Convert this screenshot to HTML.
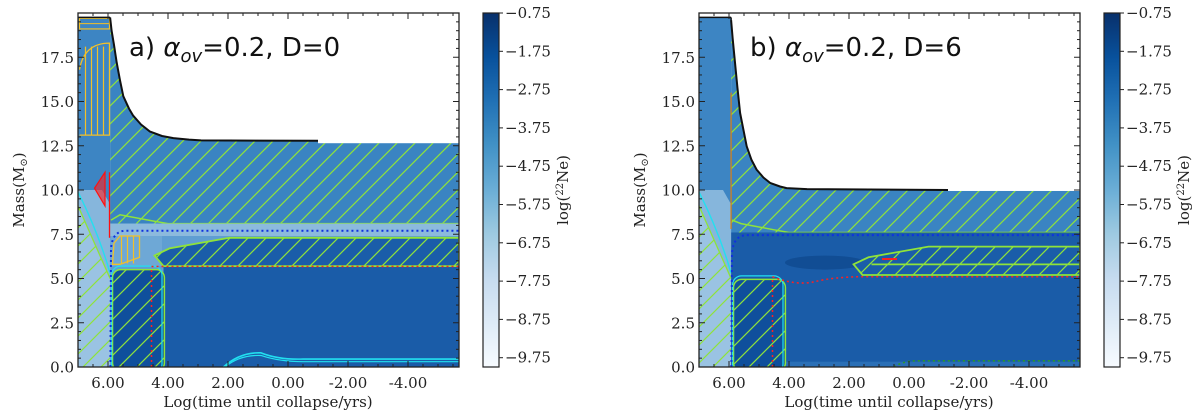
<!DOCTYPE html>
<html><head><meta charset="utf-8">
<style>
html,body{margin:0;padding:0;background:#fff;}
svg{display:block;}
text{font-family:"DejaVu Serif","Liberation Serif",serif;fill:#222;}
.t{font-size:15px;}
</style></head>
<body>
<svg id="chart" width="1200" height="415" viewBox="0 0 1200 415" xmlns="http://www.w3.org/2000/svg">
<defs>
<pattern id="hatch" patternUnits="userSpaceOnUse" width="18" height="18">
<path d="M0,18 L18,0 M-4.5,4.5 L4.5,-4.5 M13.5,22.5 L22.5,13.5" stroke="#8fe33a" stroke-width="1.2"/>
</pattern>
<linearGradient id="cmap" x1="0" y1="1" x2="0" y2="0">
<stop offset="0" stop-color="#f7fbff"/><stop offset="0.125" stop-color="#deebf7"/>
<stop offset="0.25" stop-color="#c6dbef"/><stop offset="0.375" stop-color="#9ecae1"/>
<stop offset="0.5" stop-color="#6baed6"/><stop offset="0.625" stop-color="#4292c6"/>
<stop offset="0.75" stop-color="#2171b5"/><stop offset="0.875" stop-color="#08519c"/>
<stop offset="1" stop-color="#08306b"/>
</linearGradient>
<clipPath id="clipA"><rect x="78" y="13" width="381" height="354"/></clipPath>
<clipPath id="clipB"><rect x="699" y="13" width="381" height="354"/></clipPath>
</defs>
</svg>
<script>
// ---- data ----
const xTickValues = [6, 4, 2, 0, -2, -4];
const xTickLabels = ["6.00", "4.00", "2.00", "0.00", "-2.00", "-4.00"];
const yTickValues = [0, 2.5, 5, 7.5, 10, 12.5, 15, 17.5];
const yTickLabels = ["0.0", "2.5", "5.0", "7.5", "10.0", "12.5", "15.0", "17.5"];
const cbTickValues = [-0.75, -1.75, -2.75, -3.75, -4.75, -5.75, -6.75, -7.75, -8.75, -9.75];
const cbTickLabels = ["\u22120.75", "\u22121.75", "\u22122.75", "\u22123.75", "\u22124.75", "\u22125.75", "\u22126.75", "\u22127.75", "\u22128.75", "\u22129.75"];
const surfTimeA = [5.93, 5.88, 5.8, 5.71, 5.6, 5.49, 5.3, 5.16, 4.9, 4.6, 4.2, 3.82, 3.3, 2.9, -1.0];
const surfMassA = [19.75, 19.0, 18.2, 17.2, 16.2, 15.3, 14.6, 14.2, 13.7, 13.3, 13.05, 12.93, 12.85, 12.8, 12.78];
const surfTimeB = [5.93, 5.88, 5.8, 5.72, 5.63, 5.41, 5.25, 5.08, 4.85, 4.63, 4.3, 4.08, 3.4, -1.3];
const surfMassB = [19.6, 18.6, 17.2, 15.8, 14.35, 12.47, 11.7, 11.15, 10.7, 10.4, 10.2, 10.11, 10.05, 10.0];
const envTopA = 12.65, envBotA = 8.1, coreTopA = 5.5, shellBotA = 5.7, shellTopA = 7.3, dotBlueA = 7.7;
const envTopB = 9.95, envBotB = 7.6, coreTopB = 4.95, shellBotB = 5.2, shellTopB = 6.8, dotBlueB = 7.45;

const NS = "http://www.w3.org/2000/svg";
const svg = document.getElementById('chart');
function el(tag, attrs, parent, txt) {
  const e = document.createElementNS(NS, tag);
  for (const k in attrs) e.setAttribute(k, attrs[k]);
  if (txt !== undefined) e.textContent = txt;
  (parent || svg).appendChild(e);
  return e;
}
const TOP = 13, BOT = 367, PXM = 17.7, PXT = 30, XMAX = 7, XMIN = -5.7;

function smooth(pts) {
  let d = 'M' + pts[0][0].toFixed(1) + ',' + pts[0][1].toFixed(1);
  for (let i = 1; i < pts.length; i++) d += ' L' + pts[i][0].toFixed(1) + ',' + pts[i][1].toFixed(1);
  return d;
}

function panel(L, clipId, cfg) {
  const R = L + 381;
  const X = v => L + (XMAX - v) * PXT;
  const Y = m => BOT - m * PXM;
  const P = pts => pts.map(p => X(p[0]).toFixed(1) + ',' + Y(p[1]).toFixed(1)).join(' ');
  const g = el('g', {'clip-path': 'url(#' + clipId + ')'});
  
  
  el('rect', {x: L, y: TOP, width: 381, height: BOT - TOP, fill: '#fff'}, g);
  const col = el('rect', {x: X(XMAX), y: Y(19.75), width: X(5.93) - X(XMAX), height: Y(0) - Y(19.75), fill: '#3d85c3'}, g);
  
  
  el('polygon', {points: P([[7, 10], [6.2, 10], [5.93, 9.2], [5.93, 0], [7, 0]]), fill: '#86b6dc'}, g);
  el('polygon', {points: P([[7, 9.1], [5.93, 5.0], [5.93, 0], [7, 0]]), fill: '#9ac3e3'}, g);
  el('polygon', {points: P([[7, 9.1], [5.93, 5.0], [5.93, 0], [7, 0]]), fill: 'url(#hatch)'}, g);
  el('polyline', {points: P([[7, 9.1], [6.4, 6.8], [5.93, 5.0]]), fill: 'none', stroke: '#8fe33a', 'stroke-width': 1.3}, g);
  el('path', {d: 'M' + X(7) + ',' + Y(9.9) + ' Q' + X(6.3) + ',' + Y(7.5) + ' ' + X(5.93) + ',' + Y(5.3), fill: 'none', stroke: '#22e0f0', 'stroke-width': 1.4}, g);
  const surfT = cfg.surfT, surfM = cfg.surfM;
  const envPts = [[5.93, cfg.envBot]];
  for (let i = 0; i < surfT.length; i++) envPts.push([surfT[i], Math.min(surfM[i], 19.75)]);
  envPts.push([surfT[surfT.length - 1], cfg.envTop], [XMIN, cfg.envTop], [XMIN, cfg.envBot]);
  const env = el('polygon', {points: P(envPts), fill: '#3a84c2'}, g);
  
  
  el('polygon', {points: P(envPts), fill: 'url(#hatch)'}, g);
  el('polyline', {points: P([[5.9, 8.3], [5.6, cfg.envBot + 0.5], [4.5, cfg.envBot + 0.15], [4.0, cfg.envBot], [XMIN, cfg.envBot]]), fill: 'none', stroke: '#8fe33a', 'stroke-width': 1.5}, g);
  el('rect', {x: X(5.93), y: Y(cfg.envBot), width: X(XMIN) - X(5.93), height: Y(0) - Y(cfg.envBot), fill: cfg.midColor}, g);
  if (cfg.name === 'panel-a') {
    el('rect', {x: X(5.93), y: Y(8.1), width: X(XMIN) - X(5.93), height: Y(7.4) - Y(8.1), fill: '#8cbadd'}, g);
    el('polygon', {points: P([[5.9, 7.4], [4.2, 7.4], [4.2, 5.7], [5.9, 5.7]]), fill: '#6ea8d6'}, g);
  }
  el('rect', {x: X(4.15), y: Y(cfg.shellBot), width: X(XMIN) - X(4.15), height: Y(0) - Y(cfg.shellBot), fill: '#1a5ca8'}, g);
  if (cfg.name === 'panel-b') {
    el('ellipse', {cx: X(2.8), cy: Y(5.9), rx: 40, ry: 7, fill: '#0f4a8e', opacity: 0.8}, g);
    el('rect', {x: X(5.9), y: Y(0.3), width: X(XMIN) - X(5.9), height: Y(0) - Y(0.3), fill: '#2a6fb6'}, g);
  }
  const core = el('rect', {x: X(5.85), y: Y(cfg.coreTop), width: X(4.12) - X(5.85), height: Y(0) - Y(cfg.coreTop) + 4, rx: 8, fill: '#0f4f9c'}, g);
  
  
  el('rect', {x: X(5.85), y: Y(cfg.coreTop), width: X(4.12) - X(5.85), height: Y(0) - Y(cfg.coreTop) + 4, rx: 8, fill: 'url(#hatch)', stroke: '#8fe33a', 'stroke-width': 1.5}, g);
  el('rect', {x: X(5.88), y: Y(cfg.coreTop + 0.2), width: X(4.2) - X(5.88), height: Y(0) - Y(cfg.coreTop + 0.2) + 6, rx: 9, fill: 'none', stroke: '#22e0f0', 'stroke-width': 1.2}, g);
  const sx = cfg.shellStart;
  const shellPts = [[sx, (cfg.shellBot + cfg.shellTop) / 2 - 0.2], [sx - 0.3, cfg.shellBot], [XMIN, cfg.shellBot], [XMIN, cfg.shellTop], [sx - 2.5, cfg.shellTop], [sx - 0.5, cfg.shellTop - 0.6]];
  const sh = el('polygon', {points: P(shellPts), fill: '#1a5da9'}, g);
  
  
  el('polygon', {points: P(shellPts), fill: 'url(#hatch)', stroke: '#8fe33a', 'stroke-width': 1.8}, g);
  if (cfg.name === 'panel-b') {
    el('line', {x1: X(sx - 0.6), y1: Y(5.8), x2: X(XMIN), y2: Y(5.8), stroke: '#8fe33a', 'stroke-width': 1.8}, g);
    el('line', {x1: X(0.9), y1: Y(6.1), x2: X(0.4), y2: Y(6.1), stroke: '#ff2020', 'stroke-width': 2}, g);
  }
  el('path', {d: 'M' + X(5.92) + ',' + Y(0) + ' L' + X(5.9) + ',' + Y(cfg.dotBlue - 1) + ' Q' + X(5.85) + ',' + Y(cfg.dotBlue) + ' ' + X(5.4) + ',' + Y(cfg.dotBlue) + ' L' + X(XMIN) + ',' + Y(cfg.dotBlue), fill: 'none', stroke: '#1030e0', 'stroke-width': 2, 'stroke-dasharray': '2,3'}, g);
  el('line', {x1: X(4.55), y1: Y(0), x2: X(4.55), y2: Y(cfg.coreTop + 0.15), stroke: '#ff2020', 'stroke-width': 1.5, 'stroke-dasharray': '2,3'}, g);
  if (cfg.name === 'panel-a') {
    el('line', {x1: X(4.55), y1: Y(5.68), x2: X(XMIN), y2: Y(5.68), stroke: '#ff2020', 'stroke-width': 1.5, 'stroke-dasharray': '2,3'}, g);
    el('path', {d: 'M' + X(6.95) + ',' + Y(16.8) + ' Q' + X(6.8) + ',' + Y(18.3) + ' ' + X(5.95) + ',' + Y(18.3) + ' L' + X(5.95) + ',' + Y(13.1) + ' L' + X(6.95) + ',' + Y(13.1), fill: 'none', stroke: '#f2c029', 'stroke-width': 1.3}, g);
    for (let v = 6.75; v > 5.95; v -= 0.2) el('line', {x1: X(v), y1: Y(13.1), x2: X(v), y2: Y(18.1), stroke: '#f2c029', 'stroke-width': 1.2}, g);
    el('rect', {x: X(6.95), y: Y(19.7), width: X(5.95) - X(6.95), height: Y(19.1) - Y(19.7), fill: 'none', stroke: '#f2c029', 'stroke-width': 1.2}, g);
    el('line', {x1: X(6.95), y1: Y(19.4), x2: X(5.95), y2: Y(19.4), stroke: '#f2c029', 'stroke-width': 1}, g);
    el('polygon', {points: P([[5.85, 5.8], [5.8, 7.0], [5.6, 7.4], [4.95, 7.4], [4.95, 6.2], [5.6, 5.8]]), fill: 'none', stroke: '#f2c029', 'stroke-width': 1.3}, g);
    for (let v = 5.55; v > 4.95; v -= 0.2) el('line', {x1: X(v), y1: Y(5.85), x2: X(v), y2: Y(7.4), stroke: '#f2c029', 'stroke-width': 1.2}, g);
    el('polygon', {points: P([[6.45, 10.1], [6.1, 11.0], [6.1, 9.1]]), fill: 'rgba(255,30,30,0.6)', stroke: '#ff1010', 'stroke-width': 1.2}, g);
    el('line', {x1: X(5.95), y1: Y(11), x2: X(5.95), y2: Y(7.3), stroke: '#ff1010', 'stroke-width': 1.3}, g);
    el('path', {d: 'M' + X(2.15) + ',' + Y(0) + ' Q' + X(1.6) + ',' + Y(0.85) + ' ' + X(0.9) + ',' + Y(0.8) + ' Q' + X(0.3) + ',' + Y(0.4) + ' ' + X(-0.5) + ',' + Y(0.45) + ' L' + X(XMIN) + ',' + Y(0.45), fill: 'none', stroke: '#22e0f0', 'stroke-width': 1.6}, g);
    el('path', {d: 'M' + X(2.1) + ',' + Y(0) + ' Q' + X(1.6) + ',' + Y(0.7) + ' ' + X(0.9) + ',' + Y(0.65) + ' Q' + X(0.3) + ',' + Y(0.3) + ' ' + X(-0.5) + ',' + Y(0.3) + ' L' + X(XMIN) + ',' + Y(0.3), fill: 'none', stroke: '#22e0f0', 'stroke-width': 1.2}, g);
  } else {
    el('path', {d: 'M' + X(4.55) + ',' + Y(5.1) + ' Q' + X(3.8) + ',' + Y(4.6) + ' ' + X(3.2) + ',' + Y(4.8) + ' Q' + X(2.5) + ',' + Y(5.1) + ' ' + X(1.5) + ',' + Y(5.1) + ' L' + X(XMIN) + ',' + Y(5.1), fill: 'none', stroke: '#ff2020', 'stroke-width': 1.5, 'stroke-dasharray': '2,3'}, g);
    el('line', {x1: X(5.93), y1: Y(15.5), x2: X(5.93), y2: Y(7.8), stroke: '#d08020', 'stroke-width': 1.3}, g);
    el('path', {d: 'M' + X(0.5) + ',' + Y(0) + ' Q' + X(0.2) + ',' + Y(0.35) + ' ' + X(-0.3) + ',' + Y(0.35) + ' L' + X(XMIN) + ',' + Y(0.35), fill: 'none', stroke: '#2a9a2a', 'stroke-width': 1.6, 'stroke-dasharray': '2,3'}, g);
  }
  const wPts = [[5.93, 20.2]];
  for (let i = 0; i < surfT.length; i++) wPts.push([surfT[i], surfM[i]]);
  wPts.push([surfT[surfT.length - 1], cfg.envTop], [XMIN, cfg.envTop], [XMIN, 20.2]);
  el('polygon', {points: P(wPts), fill: '#fff'}, g);
  const sPts = [];
  for (let i = 0; i < surfT.length; i++) sPts.push([surfT[i], surfM[i]]);
  const sl = el('polyline', {points: P(sPts), fill: 'none', stroke: '#111', 'stroke-width': 2, 'stroke-linejoin': 'round'}, g);
  
  
  el('line', {x1: X(7), y1: Y(19.75), x2: X(surfT[0]), y2: Y(19.75), stroke: '#111', 'stroke-width': 1.5}, g);
  el('line', {x1: X(surfT[0]), y1: Y(19.75), x2: X(surfT[0]), y2: Y(surfM[0]), stroke: '#111', 'stroke-width': 1.5}, g);
  const t = el('text', {x: L + 51, y: 56, 'font-size': 26, style: 'font-family:"DejaVu Sans","Liberation Sans",sans-serif;fill:#111'});
  
  
  el('tspan', {}, t, cfg.label + ') ');
  el('tspan', {'font-style': 'italic'}, t, '\u03b1');
  el('tspan', {'font-style': 'italic', 'font-size': 18, dy: 6}, t, 'ov');
  el('tspan', {dy: -6}, t, '=0.2, D=' + cfg.D);
  const fr = el('rect', {x: L, y: TOP, width: 381, height: BOT - TOP, fill: 'none', stroke: '#222', 'stroke-width': 1.3});
  
  
  for (let m = 0; m <= 19.75; m += 0.5) {
    const major = Math.abs(m / 2.5 - Math.round(m / 2.5)) < 1e-6;
    const len = major ? 6 : 3;
    el('line', {x1: L, y1: Y(m), x2: L + len, y2: Y(m), stroke: '#222'});
    el('line', {x1: R, y1: Y(m), x2: R - len, y2: Y(m), stroke: '#222'});
  }
  for (let v = 7; v >= XMIN; v -= 0.5) {
    const major = Math.abs(v / 2 - Math.round(v / 2)) < 1e-6;
    const len = major ? 6 : 3;
    el('line', {x1: X(v), y1: BOT, x2: X(v), y2: BOT - len, stroke: '#222'});
    el('line', {x1: X(v), y1: TOP, x2: X(v), y2: TOP + len, stroke: '#222'});
  }
  yTickValues.forEach((m, i) => {
    const tl = el('text', {x: L - 4, y: Y(m) + 5.5, 'text-anchor': 'end', class: 't'}, svg, yTickLabels[i]);
    
    
  });
  xTickValues.forEach((v, i) => {
    const tl = el('text', {x: X(v), y: 388, 'text-anchor': 'middle', class: 't'}, svg, xTickLabels[i]);
    
    
  });
  const xl = el('text', {x: L + 190, y: 407, 'text-anchor': 'middle', class: 't'}, svg, 'Log(time until collapse/yrs)');
  
  
  const yl = el('text', {x: 0, y: 0, 'text-anchor': 'middle', class: 't', transform: 'translate(' + (L - 54) + ',190) rotate(-90)'});
  
  
  el('tspan', {}, yl, 'Mass(M');
  el('tspan', {'font-size': 10, dy: 3}, yl, '\u2299');
  el('tspan', {dy: -3}, yl, ')');
  const CB = L + 405;
  const cb = el('rect', {x: CB, y: TOP, width: 16, height: BOT - TOP, fill: 'url(#cmap)', stroke: '#222', 'stroke-width': 1.2});
  
  
  const CY = v => TOP + (-0.75 - v) * 38.3;
  cbTickValues.forEach((v, i) => {
    el('line', {x1: CB + 16, y1: CY(v), x2: CB + 20, y2: CY(v), stroke: '#222'});
    const tl = el('text', {x: CB + 22, y: CY(v) + 5, class: 't'}, svg, cbTickLabels[i]);
    
    
  });
  const cl = el('text', {x: 0, y: 0, 'text-anchor': 'middle', class: 't', transform: 'translate(' + (CB + 85) + ',190) rotate(-90)'});
  
  
  el('tspan', {}, cl, 'log(');
  el('tspan', {'font-size': 10, dy: -5}, cl, '22');
  el('tspan', {dy: 5}, cl, 'Ne)');
}

panel(78, 'clipA', {name: 'panel-a', label: 'a', D: 0, surfT: surfTimeA, surfM: surfMassA, envTop: envTopA, envBot: envBotA,
  coreTop: coreTopA, shellBot: shellBotA, shellTop: shellTopA, dotBlue: dotBlueA, shellStart: 4.45, midColor: '#5f9ed2'});
panel(699, 'clipB', {name: 'panel-b', label: 'b', D: 6, surfT: surfTimeB, surfM: surfMassB, envTop: envTopB, envBot: envBotB,
  coreTop: coreTopB, shellBot: shellBotB, shellTop: shellTopB, dotBlue: dotBlueB, shellStart: 1.85, midColor: '#1a5ca8'});
</script>
</body></html>
